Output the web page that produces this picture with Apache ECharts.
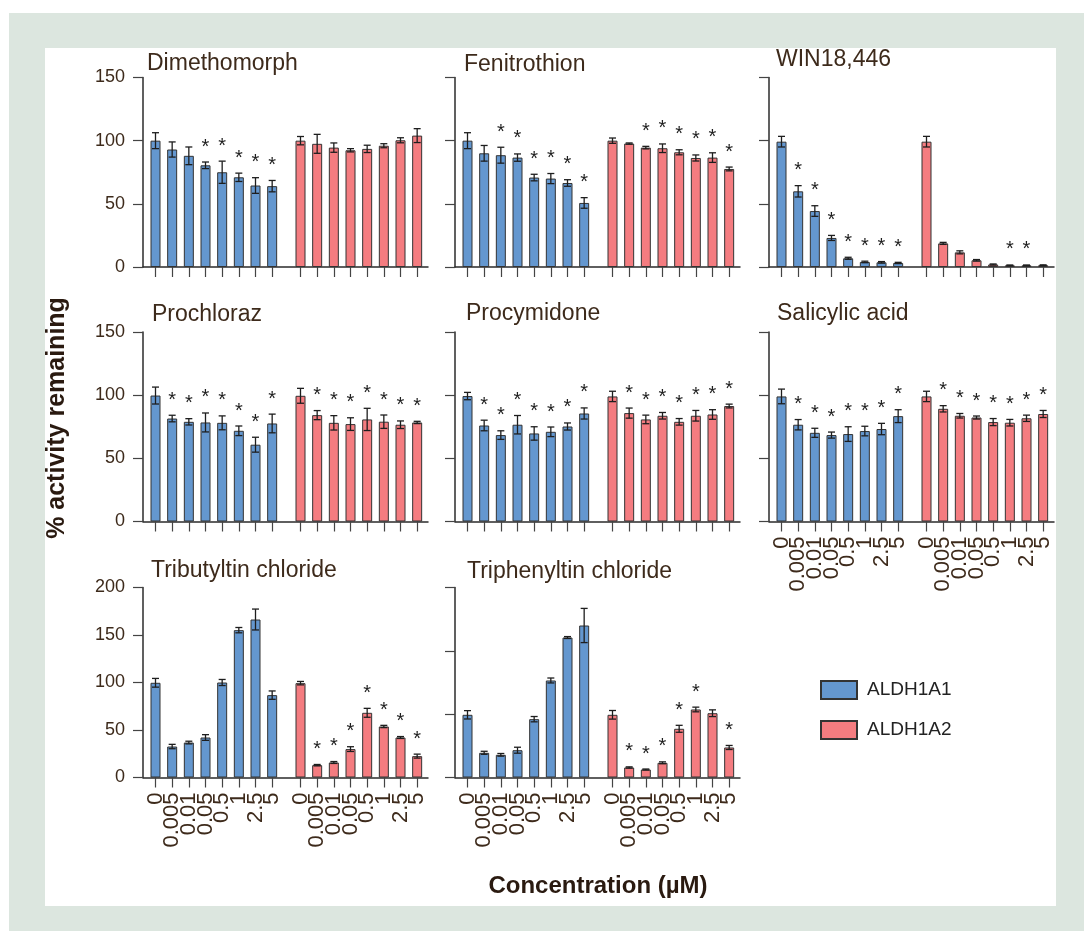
<!DOCTYPE html>
<html><head><meta charset="utf-8">
<script src="https://cdn.jsdelivr.net/npm/echarts@6/dist/echarts.min.js"></script>
<style>html,body{margin:0;padding:0;background:#fff}#c{width:1084px;height:931px}</style>
</head><body><div id="c"></div><script>
// ---------- DATA ----------
const concentrations = ['0', '0.005', '0.01', '0.05', '0.5', '1', '2.5', '5'];
const seriesNames = ['ALDH1A1', 'ALDH1A2'];
const compoundNames = ['Dimethomorph', 'Fenitrothion', 'WIN18,446', 'Prochloraz', 'Procymidone', 'Salicylic acid', 'Tributyltin chloride', 'Triphenyltin chloride'];

const dimethomorphA1 = [100, 93, 88, 80.5, 75, 71, 64.5, 64];
const dimethomorphA1Sd = [6.3, 6, 7, 2.6, 8.8, 3.3, 6.2, 4.5];
const dimethomorphA1Sig = [0, 0, 0, 1, 1, 1, 1, 1];
const dimethomorphA2 = [100, 97.5, 94.5, 92.4, 93.5, 96, 100.3, 104];
const dimethomorphA2Sd = [3.3, 7.5, 3.7, 1.3, 2.9, 1.6, 2, 5.5];
const dimethomorphA2Sig = [0, 0, 0, 0, 0, 0, 0, 0];

const fenitrothionA1 = [100, 90, 88.5, 86.6, 70.8, 70, 66.5, 50.7];
const fenitrothionA1Sd = [6.3, 6.2, 6.3, 2.9, 2.6, 4, 2.6, 4.2];
const fenitrothionA1Sig = [0, 0, 1, 1, 1, 1, 1, 1];
const fenitrothionA2 = [100, 97.7, 94.5, 94, 90.8, 86.3, 86.6, 77.6];
const fenitrothionA2Sd = [2.1, 0.5, 1, 3.4, 2, 2.4, 3.8, 1.5];
const fenitrothionA2Sig = [0, 0, 1, 1, 1, 1, 1, 1];

const winA1 = [99.2, 59.9, 44.3, 23, 6.9, 4, 3.7, 3.2];
const winA1Sd = [4.2, 4.5, 4.2, 2, 0.8, 0.6, 0.6, 0.5];
const winA1Sig = [0, 1, 1, 1, 1, 1, 1, 1];
const winA2 = [99.2, 18.7, 11.6, 5.3, 2, 1.3, 1.3, 1.4];
const winA2Sd = [4.2, 0.8, 1.2, 0.6, 0.4, 0.3, 0.3, 0.3];
const winA2Sig = [0, 0, 0, 0, 0, 1, 1, 0];

const prochlorazA1 = [99.7, 81.5, 78.9, 78.4, 78.1, 71.8, 60.8, 77.6];
const prochlorazA1Sd = [6.7, 2.6, 2.5, 7.5, 5.5, 3.8, 5.9, 7.4];
const prochlorazA1Sig = [0, 1, 1, 1, 1, 1, 1, 1];
const prochlorazA2 = [99.5, 84.2, 78.1, 77.1, 80.8, 79, 76.6, 78.4];
const prochlorazA2Sd = [5.9, 3.6, 5.7, 5, 8.8, 5.3, 3, 0.9];
const prochlorazA2Sig = [0, 1, 1, 1, 1, 1, 1, 1];

const procymidoneA1 = [99.3, 76, 68.4, 76.6, 69.7, 71, 75.2, 85.5];
const procymidoneA1Sd = [2.9, 4.2, 3.4, 7.3, 5.3, 3.8, 2.8, 4.4];
const procymidoneA1Sig = [0, 1, 1, 1, 1, 1, 1, 1];
const procymidoneA2 = [99, 85.8, 80.8, 83.7, 78.9, 83.7, 84.7, 91.4];
const procymidoneA2Sd = [4.1, 4, 3.4, 2.6, 2.6, 4.2, 3.8, 1.5];
const procymidoneA2Sig = [0, 1, 1, 1, 1, 1, 1, 1];

const salicylicA1 = [99, 76.6, 70.2, 68.4, 69.2, 71.6, 73.2, 83.4];
const salicylicA1Sd = [5.8, 4.1, 3.6, 2.4, 5.8, 3.8, 4.5, 5.1];
const salicylicA1Sig = [0, 1, 1, 1, 1, 1, 1, 1];
const salicylicA2 = [99, 89.2, 83.7, 82.3, 78.7, 78.2, 81.7, 85.1];
const salicylicA2Sd = [4.1, 2.5, 1.8, 1.2, 2.8, 2.6, 2.5, 2.8];
const salicylicA2Sig = [0, 1, 1, 1, 1, 1, 1, 1];

const tributyltinA1 = [99.7, 32.6, 36.8, 42.1, 100, 155.1, 166.3, 86.7];
const tributyltinA1Sd = [4.6, 2.3, 1.4, 3, 3.2, 2.8, 11, 4.4];
const tributyltinA1Sig = [0, 0, 0, 0, 0, 0, 0, 0];
const tributyltinA2 = [99.3, 13, 15.8, 29.9, 68.1, 53.7, 42.1, 22.5];
const tributyltinA2Sd = [1.8, 0.7, 1, 2.5, 4.7, 1.2, 1, 2.1];
const tributyltinA2Sig = [0, 1, 1, 1, 1, 1, 1, 1];

const triphenyltinA1 = [99, 39, 35.8, 43.1, 92.1, 153.2, 221, 240];
const triphenyltinA1Sd = [6.6, 2.4, 2.1, 4.7, 4.2, 3.9, 1.5, 27];
const triphenyltinA1Sig = [0, 0, 0, 0, 0, 0, 0, 0];
const triphenyltinA2 = [99, 15.8, 12.6, 23.2, 76.9, 107.4, 101.5, 47.4];
const triphenyltinA2Sd = [6.8, 1, 0.8, 1.5, 5.5, 3.7, 5.3, 3.2];
const triphenyltinA2Sig = [0, 1, 1, 1, 1, 1, 0, 1];

const yMax = [150, 150, 150, 150, 150, 150, 200, 300];
const yStep = [50, 50, 50, 50, 50, 50, 50, 100];

// ---------- LAYOUT ----------
const BLUE = '#6497cf', RED = '#f47c80', TXT = '#3d2a1b', AX = '#2b2b2b';
const FONT = '"Liberation Sans", Arial, sans-serif';
const colLeft = [143, 455, 769];
const rowTop = [77.5, 332, 587.5];
const rowH = [189.5, 189.5, 190];
const GRID_W = 285;
const titlePos = [[147, 52], [464, 53.5], [776, 48], [152, 303.5], [466, 302.5], [777, 302.5], [151, 559], [467, 560.5]];
const showXLabels = [false, false, false, false, false, true, true, true];

const N_SLOTS = 171, A1_START = 7, A2_START = 94, STEP = 10;
const slotA1 = i => A1_START + STEP * i;
const slotA2 = i => A2_START + STEP * i;
const slotLabels = new Array(N_SLOTS).fill('');
const isSlot = new Array(N_SLOTS).fill(false);
concentrations.forEach((c, i) => {
  slotLabels[slotA1(i)] = c; slotLabels[slotA2(i)] = c;
  isSlot[slotA1(i)] = true; isSlot[slotA2(i)] = true;
});

const panels = [
  [dimethomorphA1, dimethomorphA1Sd, dimethomorphA1Sig, dimethomorphA2, dimethomorphA2Sd, dimethomorphA2Sig],
  [fenitrothionA1, fenitrothionA1Sd, fenitrothionA1Sig, fenitrothionA2, fenitrothionA2Sd, fenitrothionA2Sig],
  [winA1, winA1Sd, winA1Sig, winA2, winA2Sd, winA2Sig],
  [prochlorazA1, prochlorazA1Sd, prochlorazA1Sig, prochlorazA2, prochlorazA2Sd, prochlorazA2Sig],
  [procymidoneA1, procymidoneA1Sd, procymidoneA1Sig, procymidoneA2, procymidoneA2Sd, procymidoneA2Sig],
  [salicylicA1, salicylicA1Sd, salicylicA1Sig, salicylicA2, salicylicA2Sd, salicylicA2Sig],
  [tributyltinA1, tributyltinA1Sd, tributyltinA1Sig, tributyltinA2, tributyltinA2Sd, tributyltinA2Sig],
  [triphenyltinA1, triphenyltinA1Sd, triphenyltinA1Sig, triphenyltinA2, triphenyltinA2Sd, triphenyltinA2Sig]
];

function errorRender(params, api) {
  const xi = api.value(0), m = api.value(1), sd = api.value(2), sig = api.value(3);
  const x = api.coord([xi, m])[0];
  const yT = api.coord([xi, m + sd])[1];
  const yB = api.coord([xi, Math.max(0, m - sd)])[1];
  const st = { stroke: '#1e1e1e', lineWidth: 1.3 };
  const ch = [
    { type: 'line', shape: { x1: x, y1: yT, x2: x, y2: yB }, style: st },
    { type: 'line', shape: { x1: x - 3.5, y1: yT, x2: x + 3.5, y2: yT }, style: st },
    { type: 'line', shape: { x1: x - 3.5, y1: yB, x2: x + 3.5, y2: yB }, style: st }
  ];
  if (sig) {
    ch.push({ type: 'text', style: { text: '*', x: x, y: yT - 15, align: 'center', verticalAlign: 'middle', fontSize: 20, fontFamily: FONT, fill: '#1e1e1e' } });
  }
  return { type: 'group', children: ch };
}

const grid = [], xAxis = [], yAxis = [], series = [], title = [];
panels.forEach((p, g) => {
  const r = Math.floor(g / 3), c = g % 3;
  grid.push({ left: colLeft[c], top: rowTop[r], width: GRID_W, height: rowH[r] });
  xAxis.push({
    type: 'category', gridIndex: g, data: slotLabels, boundaryGap: true,
    axisLine: { show: true, lineStyle: { color: AX, width: 1.5 } },
    axisTick: { show: true, alignWithLabel: true, interval: (i) => isSlot[i], length: 10, lineStyle: { color: '#444', width: 1.2 } },
    axisLabel: { show: showXLabels[g], interval: 0, rotate: 90, margin: 15, fontSize: 22, color: TXT, fontFamily: FONT, hideOverlap: false },
    splitLine: { show: false }
  });
  yAxis.push({
    type: 'value', gridIndex: g, min: 0, max: yMax[g], interval: yStep[g],
    axisLine: { show: true, lineStyle: { color: AX, width: 1.5 } },
    axisTick: { show: true, length: 10, lineStyle: { color: '#444', width: 1.2 } },
    axisLabel: { show: c === 0, margin: 18, fontSize: 18, color: TXT, fontFamily: FONT },
    splitLine: { show: false }
  });
  const d1 = new Array(N_SLOTS).fill(null), d2 = new Array(N_SLOTS).fill(null);
  const err = [];
  p[0].forEach((v, i) => { d1[slotA1(i)] = v; err.push([slotA1(i), v, p[1][i], p[2][i]]); });
  p[3].forEach((v, i) => { d2[slotA2(i)] = v; err.push([slotA2(i), v, p[4][i], p[5][i]]); });
  series.push({ type: 'bar', name: seriesNames[0], xAxisIndex: g, yAxisIndex: g, data: d1, barWidth: 10, barGap: '-100%',
    itemStyle: { color: BLUE, borderColor: '#333', borderWidth: 1 }, emphasis: { disabled: true } });
  series.push({ type: 'bar', name: seriesNames[1], xAxisIndex: g, yAxisIndex: g, data: d2, barWidth: 10, barGap: '-100%',
    itemStyle: { color: RED, borderColor: '#333', borderWidth: 1 }, emphasis: { disabled: true } });
  series.push({ type: 'custom', xAxisIndex: g, yAxisIndex: g, data: err, encode: { x: 0, y: 1 }, renderItem: errorRender, z: 5, silent: true });
  title.push({ text: compoundNames[g], left: titlePos[g][0], top: titlePos[g][1], padding: 0,
    textStyle: { fontSize: 23, fontWeight: 'normal', color: TXT, fontFamily: FONT } });
});

const chart = echarts.init(document.getElementById('c'), null, { renderer: 'canvas' });
chart.setOption({
  animation: false,
  backgroundColor: '#ffffff',
  textStyle: { fontFamily: FONT },
  title, grid, xAxis, yAxis, series,
  legend: {
    data: seriesNames, orient: 'vertical', left: 820, top: 680, padding: 0, itemWidth: 36, itemHeight: 18, itemGap: 20,
    icon: 'rect', selectedMode: false,
    textStyle: { fontSize: 19, color: '#222', fontFamily: FONT, padding: [0, 0, 0, 5] }
  },
  graphic: [
    { type: 'rect', z: -10, silent: true, shape: { x: 9, y: 13, width: 1075, height: 918 }, style: { fill: '#dce6df' } },
    { type: 'rect', z: -9, silent: true, shape: { x: 45, y: 48, width: 1011, height: 858 }, style: { fill: '#ffffff' } },
    { type: 'text', z: 10, x: 57, y: 418, rotation: Math.PI / 2,
      style: { text: '% activity remaining', align: 'center', verticalAlign: 'middle', fontSize: 25, fontWeight: 'bold', fill: '#2a1a10', fontFamily: FONT } },
    { type: 'text', z: 10, x: 598, y: 886,
      style: { text: 'Concentration (µM)', align: 'center', verticalAlign: 'middle', fontSize: 24, fontWeight: 'bold', fill: '#2a1a10', fontFamily: FONT } }
  ]
});
</script></body></html>
